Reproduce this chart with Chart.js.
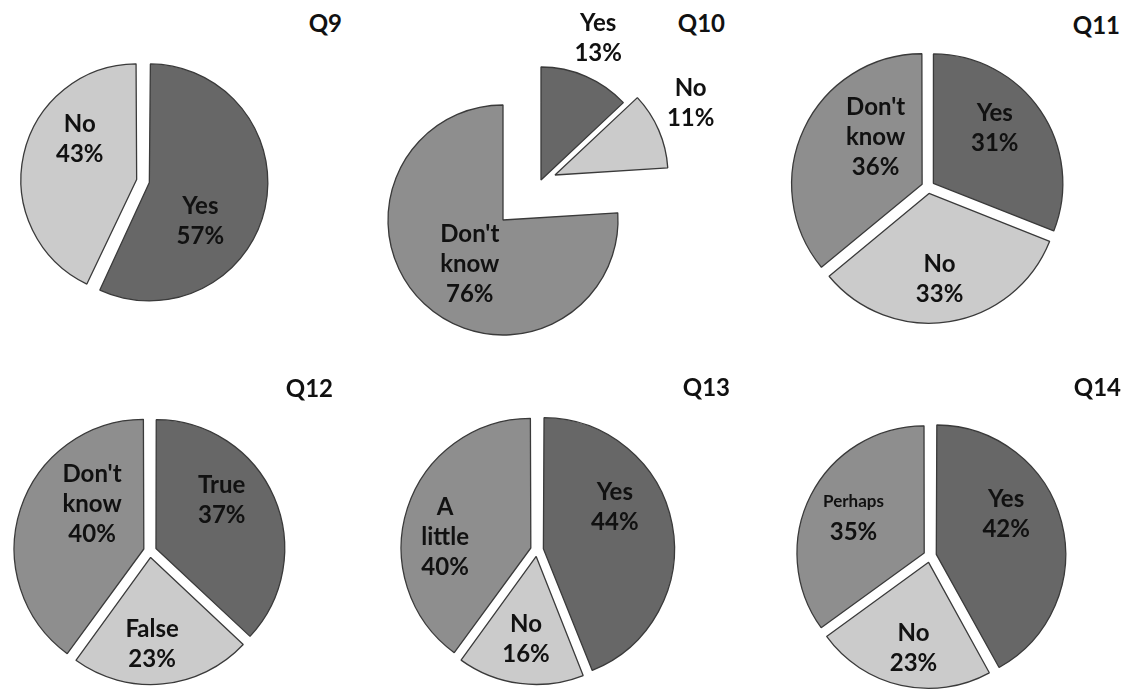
<!DOCTYPE html>
<html>
<head>
<meta charset="utf-8">
<script src="https://cdn.jsdelivr.net/npm/chart.js@4.4.0/dist/chart.umd.min.js"></script>
<style>
  body { margin: 0; background: #fff; }
  #board { position: relative; width: 1127px; height: 689px; overflow: hidden; font-family: Lato, 'Open Sans', sans-serif; }
  .qtitle { position: absolute; font-weight: 700; font-size: 24px; line-height: 24px; color: #111; }
  canvas { position: absolute; }
</style>
</head>
<body>
<div id="board"></div>
<script>
// survey answers, percent of respondents
const q9Labels = ['Yes', 'No'];
const q9Values = [57, 43];
const q10Labels = ['Yes', 'No', "Don't know"];
const q10Values = [13, 11, 76];
const q11Labels = ['Yes', 'No', "Don't know"];
const q11Values = [31, 33, 36];
const q12Labels = ['True', 'False', "Don't know"];
const q12Values = [37, 23, 40];
const q13Labels = ['Yes', 'No', 'A little'];
const q13Values = [44, 16, 40];
const q14Labels = ['Yes', 'No', 'Perhaps'];
const q14Values = [42, 23, 35];
const questionTitles = ['Q9', 'Q10', 'Q11', 'Q12', 'Q13', 'Q14'];

const sliceColors = ['#676767', '#cbcbcb', '#8e8e8e'];

// page layout of each pie: centre, radius, explode offsets, label spots [deg, frac of r].
// Q10's slices are pulled apart by very different amounts, so each one is its own pie
// (the other slices left invisible) placed where the exploded slice sits.
const panels = [
  { labels: q9Labels, values: q9Values, titleRight: 342, titleY: 23, pies: [
    { cx: 143, cy: 181, r: 112, offsets: [26, 26], spots: [[127, 0.57], [305, 0.62]] }] },
  { labels: q10Labels, values: q10Values, titleRight: 725, titleY: 23, pies: [
    { cx: 503, cy: 220, r: 115, offsets: [0, 0, 0], spots: [null, null, [217, 0.48]] },
    { cx: 541, cy: 180, r: 113, offsets: [0, 0, 0], spots: [[22, 1.35], null, null] },
    { cx: 555, cy: 175, r: 113, offsets: [0, 0, 0], spots: [null, [62, 1.36], null] }] },
  { labels: q11Labels, values: q11Values, titleRight: 1120, titleY: 25, pies: [
    { cx: 928, cy: 187, r: 129, offsets: [26, 26, 26], spots: [[48, 0.64], [173, 0.67], [315, 0.51]] }] },
  { labels: q12Labels, values: q12Values, titleRight: 333, titleY: 388, pies: [
    { cx: 150, cy: 551, r: 127, offsets: [26, 26, 26], spots: [[54, 0.64], [179, 0.68], [311, 0.54]] }] },
  { labels: q13Labels, values: q13Values, titleRight: 730, titleY: 387, pies: [
    { cx: 537, cy: 550, r: 127, offsets: [26, 26, 26], spots: [[60, 0.65], [187, 0.66], [277, 0.68]] }] },
  { labels: q14Labels, values: q14Values, titleRight: 1121, titleY: 387, nameSizes: [24, 24, 17], pies: [
    { cx: 930, cy: 556, r: 126, offsets: [26, 26, 26], spots: [[60, 0.64], [190, 0.69], [297, 0.63]] }] }
];

const BOX = 400;

// writes "name / pct" inside (or beside) each slice
const sliceLabels = {
  id: 'sliceLabels',
  afterDatasetsDraw(chart, args, opts) {
    const ctx = chart.ctx;
    const meta = chart.getDatasetMeta(0);
    const values = chart.data.datasets[0].data;
    meta.data.forEach((arc, i) => {
      const spot = opts.spots[i];
      if (!spot) return;
      const p = arc.getProps(['x', 'y', 'startAngle', 'endAngle', 'outerRadius'], true);
      const mid = (p.startAngle + p.endAngle) / 2;
      const shift = (arc.options.offset || 0) / 4;
      const ax = p.x + Math.cos(mid) * shift;
      const ay = p.y + Math.sin(mid) * shift;
      const a = (spot[0] - 90) * Math.PI / 180;
      const lx = ax + Math.cos(a) * spot[1] * p.outerRadius;
      const ly = ay + Math.sin(a) * spot[1] * p.outerRadius;

      const lines = chart.data.labels[i].split(' ').map(t => ({ text: t, size: opts.nameSizes[i] }));
      lines.push({ text: values[i] + '%', size: 24 });
      const lh = 30;
      let y = ly - (lines.length - 1) * lh / 2;
      ctx.save();
      ctx.fillStyle = '#111';
      ctx.textAlign = 'center';
      ctx.textBaseline = 'middle';
      lines.forEach(l => {
        ctx.font = '700 ' + l.size + 'px Lato';
        ctx.fillText(l.text, lx, y);
        y += lh;
      });
      ctx.restore();
    });
  }
};

function build() {
  const board = document.getElementById('board');
  Chart.defaults.font.family = 'Lato';

  panels.forEach((pn, k) => {
    const title = document.createElement('div');
    title.className = 'qtitle';
    title.textContent = questionTitles[k];
    title.style.right = (1127 - pn.titleRight) + 'px';
    title.style.top = (pn.titleY - 12) + 'px';
    board.appendChild(title);

    pn.pies.forEach(pie => {
      const canvas = document.createElement('canvas');
      canvas.width = BOX;
      canvas.height = BOX;
      canvas.style.left = (pie.cx - BOX / 2) + 'px';
      canvas.style.top = (pie.cy - BOX / 2) + 'px';
      board.appendChild(canvas);

      const shown = pie.spots.map(s => s !== null);
      new Chart(canvas.getContext('2d'), {
        type: 'pie',
        data: {
          labels: pn.labels,
          datasets: [{
            data: pn.values,
            backgroundColor: pn.values.map((v, i) => shown[i] ? sliceColors[i] : 'rgba(0,0,0,0)'),
            borderColor: '#3a3a3a',
            borderWidth: pn.values.map((v, i) => shown[i] ? 1.3 : 0),
            offset: pie.offsets,
            radius: pie.r
          }]
        },
        options: {
          responsive: false,
          animation: false,
          layout: { padding: 0 },
          plugins: {
            legend: { display: false },
            tooltip: { enabled: false },
            sliceLabels: { spots: pie.spots, nameSizes: pn.nameSizes || [24, 24, 24] }
          }
        },
        plugins: [sliceLabels]
      });
    });
  });
}

document.fonts.load('700 24px Lato').then(build, build);
</script>
</body>
</html>
